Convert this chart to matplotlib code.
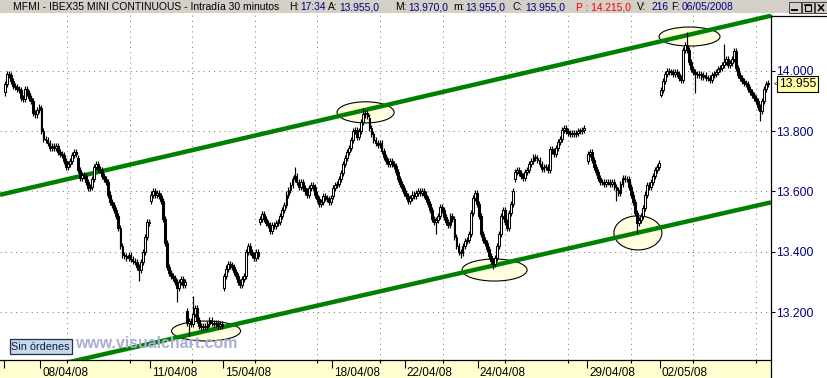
import matplotlib
matplotlib.use("Agg")
import matplotlib.pyplot as plt
import matplotlib.transforms as mtrans
from matplotlib.patches import Ellipse, Rectangle
from matplotlib.lines import Line2D

plt.rcParams['font.family'] = ['Liberation Sans', 'DejaVu Sans']

# ---------------- data (30-minute bars, 18 per session) ----------------
day_labels = ['07/04/08', '08/04/08', '09/04/08', '10/04/08', '11/04/08', '14/04/08', '15/04/08',
              '16/04/08', '17/04/08', '18/04/08', '21/04/08', '22/04/08', '23/04/08', '24/04/08',
              '25/04/08', '28/04/08', '29/04/08', '30/04/08', '02/05/08', '05/05/08', '06/05/08']
labeled_days = ['08/04/08', '11/04/08', '15/04/08', '18/04/08', '22/04/08', '24/04/08',
                '29/04/08', '02/05/08']
day_open = [13930, 13875, 13710, 13555, 13570, 13205, 13280, 13500, 13650, 13585, 13845,
            13595, 13550, 13560, 13640, 13740, 13700, 13645, 13920, 13990, 14040]

c_0704 = [13955, 13990, 13985, 13965, 13950, 13945, 13940, 13935, 13910, 13905, 13940, 13925, 13910, 13900, 13860, 13855, 13870, 13880]
c_0804 = [13800, 13775, 13770, 13760, 13745, 13750, 13745, 13750, 13730, 13725, 13720, 13700, 13680, 13690, 13700, 13720, 13730, 13725]
c_0904 = [13670, 13645, 13655, 13650, 13630, 13610, 13615, 13640, 13680, 13690, 13675, 13670, 13650, 13640, 13630, 13590, 13565, 13555]
c_1004 = [13540, 13520, 13480, 13420, 13390, 13385, 13380, 13390, 13375, 13370, 13365, 13350, 13340, 13365, 13400, 13450, 13500, 13495]
c_1104 = [13590, 13600, 13590, 13595, 13585, 13570, 13510, 13430, 13350, 13330, 13320, 13315, 13300, 13280, 13300, 13310, 13290, 13300]
c_1404 = [13165, 13170, 13160, 13195, 13215, 13175, 13155, 13150, 13155, 13150, 13160, 13175, 13165, 13160, 13165, 13155, 13160, 13155]
c_1504 = [13320, 13345, 13360, 13355, 13350, 13335, 13320, 13300, 13290, 13310, 13320, 13400, 13420, 13400, 13390, 13380, 13400, 13385]
c_1604 = [13510, 13525, 13510, 13495, 13490, 13470, 13490, 13485, 13495, 13500, 13520, 13540, 13555, 13590, 13605, 13620, 13640, 13655]
c_1704 = [13630, 13615, 13630, 13610, 13600, 13590, 13610, 13620, 13615, 13590, 13575, 13560, 13565, 13585, 13580, 13575, 13565, 13580]
c_1804 = [13610, 13620, 13625, 13640, 13660, 13690, 13710, 13730, 13745, 13770, 13800, 13805, 13780, 13800, 13830, 13855, 13860, 13850]
c_2104 = [13810, 13790, 13770, 13760, 13755, 13760, 13735, 13715, 13700, 13690, 13700, 13690, 13685, 13665, 13640, 13625, 13610, 13595]
c_2204 = [13585, 13570, 13580, 13590, 13585, 13595, 13600, 13595, 13600, 13590, 13575, 13560, 13540, 13510, 13500, 13505, 13520, 13550]
c_2304 = [13540, 13515, 13500, 13490, 13520, 13510, 13450, 13420, 13400, 13395, 13420, 13435, 13440, 13460, 13530, 13580, 13595, 13560]
c_2404 = [13520, 13460, 13440, 13430, 13410, 13385, 13370, 13360, 13380, 13420, 13460, 13520, 13540, 13500, 13480, 13530, 13560, 13600]
c_2504 = [13665, 13670, 13660, 13650, 13645, 13665, 13670, 13690, 13700, 13715, 13710, 13705, 13690, 13675, 13680, 13680, 13670, 13740]
c_2804 = [13735, 13725, 13745, 13765, 13775, 13805, 13810, 13800, 13795, 13790, 13795, 13790, 13795, 13800, 13800, 13805, 13810, None]
c_2904 = [13725, 13730, 13705, 13680, 13665, 13645, 13630, 13630, 13625, 13630, 13630, 13625, 13630, 13615, 13605, 13595, 13625, 13645]
c_3004 = [13640, 13640, 13615, 13590, 13565, 13530, 13495, 13505, 13520, 13545, 13590, 13620, 13615, 13630, 13650, 13670, 13680, 13695]
c_0205 = [13935, 13965, 13990, 14000, 13995, 13995, 13990, 13995, 13990, 13975, 13970, 14070, 14085, 14070, 14030, 14005, 13995, 13990]
c_0505 = [13985, 13990, 13980, 13985, 13975, 13975, 13970, 13985, 13990, 13995, 14005, 14010, 14020, 14030, 14040, 14020, 14025, 14040]
c_0605 = [14065, 14010, 13985, 13975, 13965, 13960, 13955, 13940, 13930, 13920, 13910, 13900, 13880, 13865, 13900, 13940, 13955, 13955]

sessions = [c_0704, c_0804, c_0904, c_1004, c_1104, c_1404, c_1504, c_1604, c_1704, c_1804, c_2104,
            c_2204, c_2304, c_2404, c_2504, c_2804, c_2904, c_3004, c_0205, c_0505, c_0605]

# notable wick extremes (bar index -> price)
spike_high = {93: 13255, 143: 13680, 177: 13878, 337: 14128, 355: 14088, 377: 13970}
spike_low = {0: 13915, 66: 13305, 85: 13235, 91: 13120, 213: 13460, 225: 13380, 241: 13345,
             302: 13570, 312: 13462, 324: 13912, 341: 13925, 373: 13835}

# channel lines (bar index, price)
upper_x, upper_y = [-2.5, 378.3], [13589, 14182]
lower_x, lower_y = [-2.5, 378.3], [12983, 13564]

# highlighted zones: centre bar, centre price, width (bars), height (points)
zones_x = [99.3, 178.1, 241.8, 312.6, 338.1]
zones_y = [13138, 13862, 13340, 13463, 14113]
zones_w = [34.1, 28.2, 32.1, 23.7, 30.1]
zones_h = [66, 70, 73, 113, 63]

y_ticks = [13200, 13400, 13600, 13800, 14000]
y_ticklabels = ['13.200', '13.400', '13.600', '13.800', '14.000']
last_price = 13955
last_label = '13.955'

header = [(13, 'MFMI - IBEX35 MINI CONTINUOUS - Intradía 30 minutos', 'k'),
          (289, 'H:', 'k'), (300, '17:34', 'n'),
          (328, 'A:', 'k'), (339, '13.955,0', 'n'),
          (395, 'M:', 'k'), (408, '13.970,0', 'n'),
          (453, 'm:', 'k'), (465, '13.955,0', 'n'),
          (513, 'C:', 'k'), (525, '13.955,0', 'n'),
          (576, 'P : 14.215,0', 'r'),
          (637, 'V:', 'k'), (651, '216', 'n'),
          (671, 'F:', 'k'), (682, '06/05/2008', 'n')]

# ---------------- layout ----------------
W, H = 828, 378
BARS_PER_DAY = 18
BAR_PX = 2.0246
X0_PX = 4.0
WICK = 10
NAVY = '#000080'


def px_to_x(p):
    return (p - X0_PX) / BAR_PX - 0.5


def fx(p):
    return p / W


def fy(p):
    return 1 - p / H


fig = plt.figure(figsize=(W / 100, H / 100), dpi=100)
fig.patch.set_facecolor('white')

ax = fig.add_axes([0, 18 / H, 771 / W, 347 / H])
ax.set_facecolor('white')
ax.set_xlim(px_to_x(0), px_to_x(771))
ax.set_ylim(13042.1, 14191.0)
for s in ['left', 'top', 'right']:
    ax.spines[s].set_visible(False)
ax.spines['bottom'].set_linewidth(0.9)
ax.spines['bottom'].set_color('black')

# grid
grid_x = [px_to_x(67 + 62.62 * k) for k in range(12)]
gstyle = dict(color='#808080', lw=0.75, ls=(0, (1, 4)), zorder=1)
for gx in grid_x:
    ax.axvline(gx, **gstyle)
for gy in y_ticks:
    ax.axhline(gy, **gstyle)

# zones
for cx, cy, w, h in zip(zones_x, zones_y, zones_w, zones_h):
    ax.add_patch(Ellipse((cx, cy), w, h, facecolor='#ffffe0', edgecolor='black',
                         lw=0.8, zorder=2))

# channel
ax.plot(upper_x, upper_y, color='#008000', lw=3.2, solid_capstyle='butt', zorder=3)
ax.plot(lower_x, lower_y, color='#008000', lw=3.2, solid_capstyle='butt', zorder=3)

# candles
xs, bots, hts, fills, wlo, whi = [], [], [], [], [], []
for d, closes in enumerate(sessions):
    prev = None
    for j, c in enumerate(closes):
        idx = d * BARS_PER_DAY + j
        if c is None:
            continue
        o = day_open[d] if j == 0 else prev
        prev = c
        lo_b, hi_b = min(o, c), max(o, c)
        xs.append(idx)
        bots.append(lo_b)
        hts.append(max(hi_b - lo_b, 3))
        fills.append('white' if c >= o else 'black')
        whi.append(spike_high.get(idx, hi_b + WICK))
        wlo.append(spike_low.get(idx, lo_b - WICK))

ax.vlines(xs, wlo, whi, color='black', lw=0.85, zorder=4)
ax.bar(xs, hts, bottom=bots, width=0.9, color=fills, edgecolor='black', linewidth=0.75, zorder=5)

# x ticks
day_start = [d * BARS_PER_DAY - 0.5 for d in range(len(day_labels))]
major = [day_start[0]] + [day_start[day_labels.index(l)] for l in labeled_days]
ax.set_xticks(major)
ax.set_xticklabels([''] * len(major))
ax.set_xticks(grid_x, minor=True)
ax.tick_params(axis='x', which='major', direction='out', length=5.8, width=0.8, color='black')
ax.tick_params(axis='x', which='minor', direction='out', length=2.4, width=0.8, color='black')
trans = mtrans.blended_transform_factory(ax.transData, ax.transAxes)
trans = mtrans.offset_copy(trans, fig=fig, x=2, y=-7.5, units='dots')
for l in labeled_days:
    ax.text(day_start[day_labels.index(l)], 0, l, transform=trans, ha='left', va='top',
            fontsize=8.5, color='black', clip_on=False)

# y ticks right
ax.yaxis.tick_right()
ax.set_yticks(y_ticks)
ax.set_yticklabels(y_ticklabels)
ax.tick_params(axis='y', direction='out', length=2.6, width=0.8, color='black',
               labelcolor=NAVY, labelsize=8.7, pad=1.2)

# last price marker
tr2 = mtrans.blended_transform_factory(ax.transAxes, ax.transData)
ax.text(1 + 2.2 / 771, last_price, '<', transform=tr2, fontsize=5.5, va='center', ha='left',
        color='black', clip_on=False)
ax.text(1 + 8 / 771, last_price, last_label, transform=tr2, fontsize=8.7, va='center', ha='left',
        color='black', clip_on=False,
        bbox=dict(boxstyle='square,pad=0.18', fc='#ffffaa', ec='black', lw=0.8))

# ---------------- frame pieces ----------------
fig.add_artist(Rectangle((0, 0), fx(771), 18 / H, transform=fig.transFigure,
                         facecolor='#ffffd2', edgecolor='none', zorder=-1))
fig.add_artist(Rectangle((0, fy(13)), 1, 13 / H, transform=fig.transFigure,
                         facecolor='#d4d0c8', edgecolor='none', zorder=-1))
fig.add_artist(Line2D([fx(771.5), fx(771.5)], [0, fy(15)], transform=fig.transFigure,
                      color='black', lw=0.9))
fig.add_artist(Line2D([fx(771.5), 1], [fy(15.5), fy(15.5)], transform=fig.transFigure,
                      color='black', lw=0.9))

# header text
cmap = {'k': 'black', 'n': NAVY, 'r': '#ff0000'}
for x, s, c in header:
    fs = 7.5 if x == 13 else 7.4
    fig.text(fx(x), fy(7), s, color=cmap[c], fontsize=fs, ha='left', va='center')

# window buttons
for k, bx in enumerate([789, 802, 815]):
    fig.add_artist(Rectangle((fx(bx), fy(13)), 12 / W, 11 / H, transform=fig.transFigure,
                             facecolor='#d4d0c8', edgecolor='#404040', lw=0.7))
    if k == 0:
        fig.add_artist(Line2D([fx(bx + 3), fx(bx + 8)], [fy(10), fy(10)],
                              transform=fig.transFigure, color='black', lw=1.4))
    elif k == 1:
        fig.add_artist(Rectangle((fx(bx + 3), fy(11)), 6 / W, 6 / H, transform=fig.transFigure,
                                 facecolor='none', edgecolor='black', lw=0.8))
        fig.add_artist(Line2D([fx(bx + 3), fx(bx + 9)], [fy(5.3), fy(5.3)],
                              transform=fig.transFigure, color='black', lw=1.2))
    else:
        fig.add_artist(Line2D([fx(bx + 3.5), fx(bx + 8.5)], [fy(5), fy(10.5)],
                              transform=fig.transFigure, color='black', lw=1.1))
        fig.add_artist(Line2D([fx(bx + 3.5), fx(bx + 8.5)], [fy(10.5), fy(5)],
                              transform=fig.transFigure, color='black', lw=1.1))

# watermark and status box
fig.text(fx(75), fy(344), 'www.visualchart.com', fontsize=11.4, fontweight='bold',
         color='#a9afd2', ha='left', va='center', zorder=6)
fig.add_artist(Rectangle((fx(9.5), fy(354)), 62 / W, 15 / H, transform=fig.transFigure,
                         facecolor='#c8d8ee', edgecolor='#1c3444', lw=0.9, zorder=6))
fig.text(fx(40.5), fy(346.5), 'Sin órdenes', fontsize=7.8, color='#0c2030',
         ha='center', va='center', zorder=7)

fig.savefig('out.png', dpi=100, facecolor=fig.get_facecolor())
